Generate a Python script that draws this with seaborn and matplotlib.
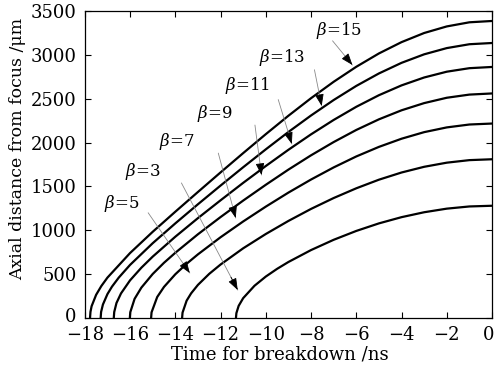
import matplotlib
matplotlib.use("Agg")
import matplotlib.pyplot as plt
import matplotlib.transforms as mtransforms
import seaborn as sns
import pandas as pd

# ---- data ----
betas = [15, 13, 11, 9, 7, 5, 3]

t_b15 = [-17.77, -17.75, -17.7, -17.5, -17.27, -17, -16, -15, -14, -13, -12, -11, -10, -9, -8, -7, -6, -5, -4, -3, -2, -1, 0]
z_b15 = [0, 71, 135, 265, 365, 461, 741, 983, 1212, 1437, 1660, 1880, 2096, 2306, 2506, 2693, 2864, 3016, 3145, 3249, 3324, 3371, 3386]

t_b13 = [-17.30, -17.28, -17.2, -17, -16.8, -16.5, -16, -15, -14, -13, -12, -11, -10, -9, -8, -7, -6, -5, -4, -3, -2, -1, 0]
z_b13 = [0, 70, 154, 273, 358, 461, 606, 853, 1079, 1297, 1510, 1719, 1923, 2121, 2309, 2485, 2646, 2788, 2909, 3006, 3077, 3121, 3135]

t_b11 = [-16.72, -16.70, -16.6, -16.4, -16, -15.5, -15, -14, -13, -12, -11, -10, -9, -8, -7, -6, -5, -4, -3, -2, -1, 0]
z_b11 = [0, 69, 172, 281, 430, 574, 700, 927, 1139, 1342, 1541, 1733, 1918, 2094, 2258, 2408, 2540, 2652, 2742, 2808, 2848, 2862]

t_b9 = [-16.01, -15.99, -15.8, -15.5, -15, -14.5, -14, -13, -12, -11, -10, -9, -8, -7, -6, -5, -4, -3, -2, -1, 0]
z_b9 = [0, 67, 219, 347, 502, 630, 744, 955, 1151, 1339, 1519, 1692, 1855, 2006, 2144, 2265, 2368, 2450, 2511, 2547, 2560]

t_b7 = [-15.07, -15.05, -14.8, -14.5, -14, -13.5, -13, -12, -11, -10, -9, -8, -7, -6, -5, -4, -3, -2, -1, 0]
z_b7 = [0, 65, 240, 355, 499, 619, 726, 921, 1101, 1270, 1430, 1579, 1717, 1842, 1951, 2044, 2119, 2173, 2206, 2217]

t_b5 = [-13.70, -13.68, -13.5, -13.3, -13, -12.5, -12, -11, -10, -9, -8, -7, -6, -5, -4, -3, -2, -1, 0]
z_b5 = [0, 62, 198, 282, 378, 504, 610, 795, 958, 1107, 1244, 1368, 1479, 1577, 1659, 1724, 1771, 1800, 1810]

t_b3 = [-11.32, -11.30, -11.2, -11, -10.5, -10, -9.5, -9, -8, -7, -6, -5, -4, -3, -2, -1, 0]
z_b3 = [0, 56, 139, 227, 368, 473, 561, 639, 775, 892, 993, 1079, 1150, 1206, 1247, 1272, 1280]

x_ticks = [-18, -16, -14, -12, -10, -8, -6, -4, -2, 0]
y_ticks = [0, 500, 1000, 1500, 2000, 2500, 3000, 3500]

# annotation labels: text, label centre, arrow start, arrow tip
label_text = [r"$\beta$=15", r"$\beta$=13", r"$\beta$=11", r"$\beta$=9", r"$\beta$=7", r"$\beta$=3", r"$\beta$=5"]
label_x = [-6.78, -9.29, -10.80, -12.26, -13.93, -15.44, -16.37]
label_y = [3272, 2975, 2656, 2337, 2018, 1676, 1311]
arrow_x0 = [-7.05, -7.85, -9.45, -10.48, -12.10, -13.73, -15.20]
arrow_y0 = [3160, 2830, 2490, 2200, 1880, 1540, 1200]
arrow_x1 = [-6.17, -7.53, -8.85, -10.19, -11.33, -11.24, -13.36]
arrow_y1 = [2884, 2417, 1984, 1630, 1140, 319, 513]

# ---- build table ----
curves = {15: (t_b15, z_b15), 13: (t_b13, z_b13), 11: (t_b11, z_b11), 9: (t_b9, z_b9),
          7: (t_b7, z_b7), 5: (t_b5, z_b5), 3: (t_b3, z_b3)}
rows = []
for b in betas:
    tt, zz = curves[b]
    for t, z in zip(tt, zz):
        rows.append({"beta": b, "t": t, "z": z})
df = pd.DataFrame(rows)

sns.set_theme(style="ticks")
plt.rcParams["font.family"] = ["DejaVu Serif"]
plt.rcParams["mathtext.fontset"] = "dejavuserif"
plt.rcParams["axes.unicode_minus"] = True

fig = plt.figure(figsize=(4.96, 3.66), dpi=100)
ax = fig.add_axes([0.171, 0.131, 0.821, 0.839])

sns.lineplot(data=df, x="t", y="z", hue="beta", units="beta", estimator=None, sort=False,
             palette={b: "black" for b in betas}, legend=False, linewidth=1.6, ax=ax)

ax.set_xlim(-18, 0)
ax.set_ylim(0, 3500)
ax.set_xticks(x_ticks)
ax.set_yticks(y_ticks)
ax.set_xticklabels([("\u2212%d" % -v) if v < 0 else str(v) for v in x_ticks])
ax.set_yticklabels([str(v) for v in y_ticks])
ax.tick_params(direction="in", length=4, width=0.8, top=True, right=True,
               labelsize=13, colors="black")
ax.tick_params(axis="x", pad=6)
ax.tick_params(axis="y", pad=6)
for s in ax.spines.values():
    s.set_color("black")
    s.set_linewidth(0.9)

# small nudges so the corner labels do not collide / get clipped
last = ax.get_xticklabels()[-1]
last.set_transform(last.get_transform() + mtransforms.ScaledTranslation(-3 / 100, 0, fig.dpi_scale_trans))
first_y = ax.get_yticklabels()[0]
first_y.set_transform(first_y.get_transform() + mtransforms.ScaledTranslation(0, 3 / 100, fig.dpi_scale_trans))

ax.set_xlabel("Time for breakdown /ns", fontsize=13, color="black")
ax.set_ylabel("Axial distance from focus /\u03bcm", fontsize=12.5, color="black")
ax.xaxis.set_label_coords(0.479, -0.088)
ax.yaxis.set_label_coords(-0.143, 0.55)

for i in range(len(label_text)):
    ax.text(label_x[i], label_y[i], label_text[i], fontsize=12, ha="center", va="center", color="black")
    ax.annotate("", xy=(arrow_x1[i], arrow_y1[i]), xytext=(arrow_x0[i], arrow_y0[i]),
                arrowprops=dict(arrowstyle="-", color="#888888", lw=0.6, shrinkA=0, shrinkB=0))
    dx = arrow_x1[i] - arrow_x0[i]
    dy = arrow_y1[i] - arrow_y0[i]
    f = 0.12
    ax.annotate("", xy=(arrow_x1[i], arrow_y1[i]),
                xytext=(arrow_x1[i] - dx * f, arrow_y1[i] - dy * f),
                arrowprops=dict(arrowstyle="-|>,head_length=0.6,head_width=0.22", color="black",
                                lw=0.6, shrinkA=0, shrinkB=0))

fig.savefig("out.png", dpi=100)
